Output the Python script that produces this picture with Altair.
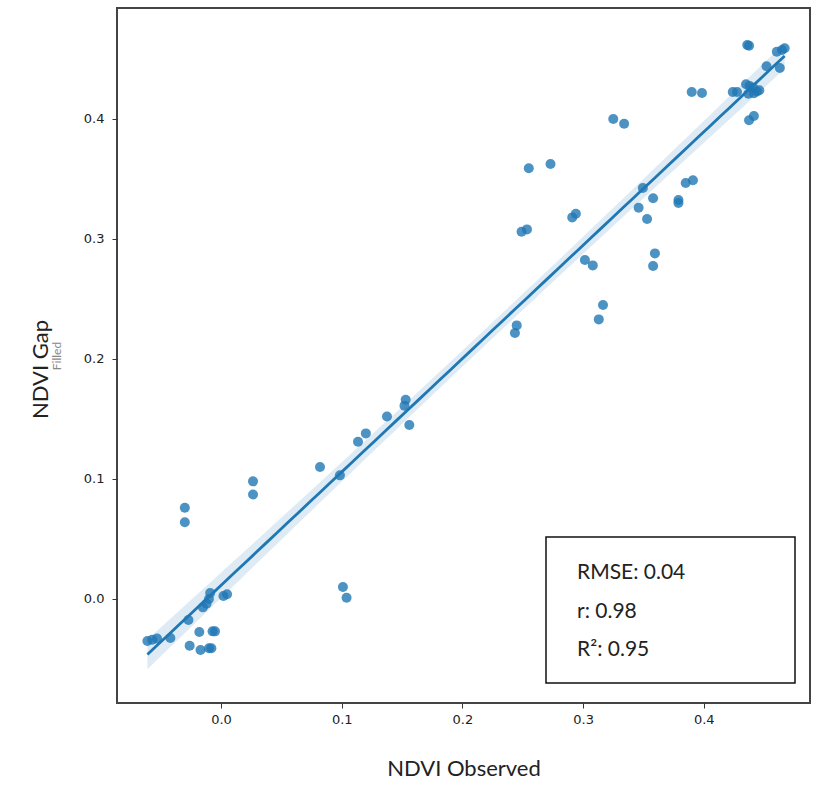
import altair as alt
import numpy as np
import pandas as pd

# Observed vs gap-filled NDVI samples
ndvi_observed = [
    -0.061, -0.057, -0.053, -0.042, -0.027, -0.026, -0.018, -0.017, -0.010, -0.008,
    -0.007, -0.005, -0.015, -0.012, -0.010, -0.009, 0.002, 0.005, -0.030, -0.030,
    0.0265, 0.0265, 0.082, 0.0985, 0.101, 0.104,
    0.1135, 0.120, 0.1375, 0.152, 0.153, 0.156,
    0.245, 0.2435, 0.255, 0.273, 0.249, 0.2535, 0.291, 0.294, 0.3015, 0.308,
    0.3165, 0.313, 0.3495, 0.346, 0.358, 0.353, 0.3595, 0.358, 0.379, 0.379,
    0.385, 0.391, 0.325, 0.334, 0.390, 0.3985, 0.424, 0.4275, 0.436, 0.4375,
    0.435, 0.438, 0.441, 0.444, 0.4415, 0.437, 0.446, 0.4375, 0.4415, 0.452,
    0.463, 0.4605, 0.4648, 0.467,
]
ndvi_gap_filled = [
    -0.035, -0.034, -0.033, -0.0325, -0.0175, -0.039, -0.0275, -0.0425, -0.041, -0.041,
    -0.027, -0.027, -0.007, -0.004, 0.0, 0.005, 0.0025, 0.004, 0.076, 0.064,
    0.098, 0.087, 0.110, 0.103, 0.010, 0.001,
    0.131, 0.138, 0.152, 0.161, 0.166, 0.145,
    0.228, 0.2217, 0.359, 0.3625, 0.306, 0.308, 0.318, 0.321, 0.2825, 0.278,
    0.245, 0.233, 0.3425, 0.326, 0.334, 0.3167, 0.288, 0.2775, 0.3325, 0.330,
    0.3467, 0.349, 0.400, 0.396, 0.4225, 0.4217, 0.4225, 0.4225, 0.4617, 0.461,
    0.429, 0.4275, 0.426, 0.423, 0.4215, 0.421, 0.424, 0.399, 0.4025, 0.444,
    0.4425, 0.456, 0.4575, 0.459,
]

stat_labels = ["RMSE: 0.04", "r: 0.98", "R²: 0.95"]

points = pd.DataFrame({"obs": ndvi_observed, "gap": ndvi_gap_filled})

# Least-squares fit with a confidence band for the mean prediction
x = np.asarray(ndvi_observed)
y = np.asarray(ndvi_gap_filled)
n = len(x)
slope, intercept = np.polyfit(x, y, 1)
resid = y - (slope * x + intercept)
s = np.sqrt(np.sum(resid ** 2) / (n - 2))
sxx = np.sum((x - x.mean()) ** 2)
xs = np.linspace(x.min(), x.max(), 60)
yhat = slope * xs + intercept
se = s * np.sqrt(1.0 / n + (xs - x.mean()) ** 2 / sxx)
z = 1.4
fit = pd.DataFrame({"obs": xs, "fit": yhat, "lo": yhat - z * se, "hi": yhat + z * se})

blue = "#1f77b4"
xscale = alt.Scale(domain=[-0.0862, 0.488], nice=False, zero=False)
yscale = alt.Scale(domain=[-0.0867, 0.4925], nice=False, zero=False)

xaxis = alt.Axis(
    values=[0.0, 0.1, 0.2, 0.3, 0.4], format=".1f", grid=False, domain=False,
    tickSize=5, tickColor="#333", labelFont="DejaVu Sans", labelFontSize=13,
    labelColor="#222", labelPadding=5,
    title="NDVI Observed", titleFont="Lato", titleFontSize=22, titleFontWeight="normal",
    titleColor="#222", titleY=65, titleBaseline="middle",
)
yaxis = alt.Axis(
    values=[0.0, 0.1, 0.2, 0.3, 0.4], format=".1f", grid=False, domain=False,
    tickSize=5, tickColor="#333", labelFont="DejaVu Sans", labelFontSize=13,
    labelColor="#222", labelPadding=8,
    title="NDVI Gap", titleFont="Lato", titleFontSize=22, titleFontWeight="normal",
    titleColor="#222", titleX=-77, titleY=361, titleAngle=270,
    titleBaseline="middle", titleAlign="center",
)

band = alt.Chart(fit).mark_area(color=blue, opacity=0.15).encode(
    x=alt.X("obs:Q", scale=xscale, axis=xaxis),
    y=alt.Y("lo:Q", scale=yscale, axis=yaxis),
    y2="hi:Q",
)

line = alt.Chart(fit).mark_line(color=blue, strokeWidth=2.8).encode(
    x=alt.X("obs:Q", scale=xscale),
    y=alt.Y("fit:Q", scale=yscale),
)

scatter = alt.Chart(points).mark_circle(size=100, color=blue, opacity=0.8).encode(
    x=alt.X("obs:Q", scale=xscale),
    y=alt.Y("gap:Q", scale=yscale),
)

# Faint second line of the y-axis title
subtitle = alt.Chart(alt.Data(values=[{"t": "Filled"}])).mark_text(
    angle=270, font="Lato", fontSize=12, color="#888", align="center", baseline="middle"
).encode(x=alt.value(-60), y=alt.value(348), text="t:N")

# Statistics box
box = alt.Chart(alt.Data(values=[{"k": 1}])).mark_rect(
    fill="white", stroke="#111", strokeWidth=1.5
).encode(x=alt.value(429), x2=alt.value(678), y=alt.value(529), y2=alt.value(675))

stat_text = alt.Chart(alt.Data(values=[{"k": 1}])).mark_text(
    text=stat_labels, lineHeight=38.5,
    font="Lato", fontSize=21, color="#222", align="left", baseline="middle"
).encode(x=alt.value(460), y=alt.value(565))

chart = alt.layer(band, line, scatter, subtitle, box, stat_text).properties(
    width=693,
    height=695,
    autosize=alt.AutoSizeParams(type="none"),
    padding={"left": 117, "top": 8, "right": 20, "bottom": 106},
).configure(
    background="white",
    view=alt.ViewConfig(stroke="#444", strokeWidth=2),
)

chart.save("out.html", embed_options={"renderer": "svg", "actions": False})
